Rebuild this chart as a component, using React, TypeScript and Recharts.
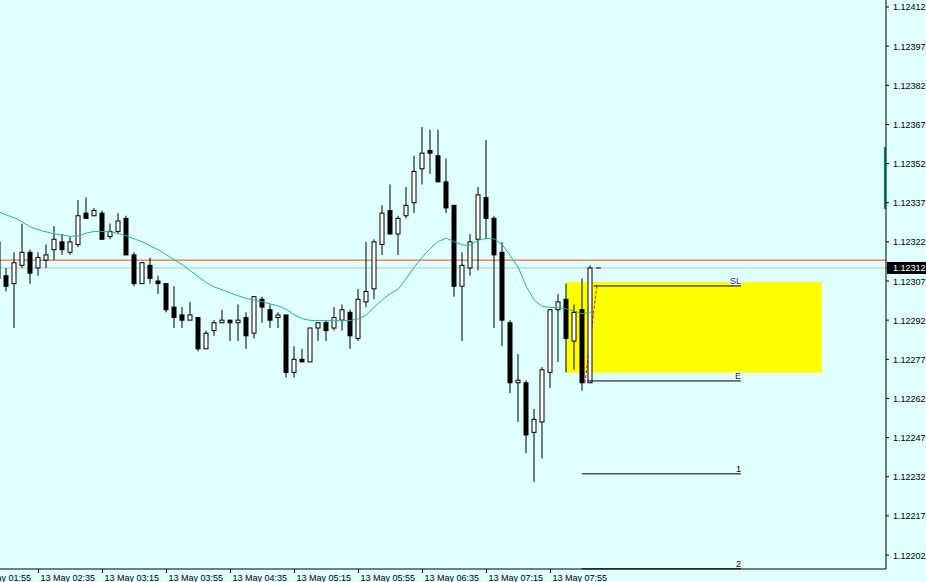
import * as React from "react";
import {
  Bar,
  ComposedChart,
  Line,
  ReferenceArea,
  ReferenceLine,
  XAxis,
  YAxis,
} from "recharts";

// EURUSD M5, 13 May. Bar index 0 = 02:15, one bar per 5 minutes.
const FIRST_BAR = -1;

const opens = [
  1.12322, 1.12309, 1.12306, 1.12313, 1.12318, 1.12312, 1.12315, 1.12319, 1.12322, 1.12318,
  1.12321, 1.12333, 1.12332, 1.12333, 1.12324, 1.12326, 1.12331, 1.12317, 1.12306, 1.12313,
  1.12307, 1.12306, 1.12297, 1.12294, 1.12292, 1.12293, 1.12281, 1.12288, 1.12291, 1.12292,
  1.12291, 1.12293, 1.12287, 1.123, 1.12296, 1.12293, 1.12294, 1.12272, 1.12277, 1.12276,
  1.12289, 1.12291, 1.12289, 1.12292, 1.12295, 1.12285, 1.12299, 1.12304, 1.12321, 1.12334,
  1.12325, 1.12332, 1.12337, 1.1235, 1.12357, 1.12355, 1.12345, 1.12336, 1.12305, 1.12312,
  1.12323, 1.12339, 1.12331, 1.12318, 1.12291, 1.12268, 1.12268, 1.12249, 1.12253, 1.12272,
  1.12296, 1.123, 1.12284, 1.12296, 1.12268,
];
const highs = [
  1.12323, 1.12312, 1.12318, 1.12329, 1.12319, 1.12318, 1.12321, 1.12328, 1.12325, 1.12324,
  1.12338, 1.12339, 1.12335, 1.12334, 1.12329, 1.12333, 1.12332, 1.12318, 1.12314, 1.12316,
  1.12309, 1.12306, 1.12305, 1.12297, 1.12299, 1.12293, 1.12288, 1.12292, 1.12296, 1.12292,
  1.12298, 1.12295, 1.12301, 1.12301, 1.12298, 1.12295, 1.12294, 1.12282, 1.12281, 1.12289,
  1.12291, 1.12292, 1.12297, 1.12298, 1.12296, 1.12304, 1.12322, 1.12323, 1.12336, 1.12344,
  1.12332, 1.12343, 1.12355, 1.12366, 1.12365, 1.12365, 1.12354, 1.12336, 1.12318, 1.12325,
  1.12343, 1.12361, 1.12332, 1.12322, 1.12292, 1.12279, 1.12269, 1.12258, 1.12274, 1.12296,
  1.12302, 1.12306, 1.12298, 1.12308, 1.12313,
];
const lows = [
  1.12307, 1.12303, 1.12289, 1.12312, 1.12306, 1.12309, 1.12312, 1.12315, 1.12317, 1.12317,
  1.1232, 1.12331, 1.12332, 1.12323, 1.12323, 1.12325, 1.12317, 1.12305, 1.12306, 1.12306,
  1.12302, 1.12295, 1.12289, 1.12289, 1.12292, 1.1228, 1.12281, 1.12286, 1.12291, 1.12284,
  1.12284, 1.12281, 1.12285, 1.12291, 1.12289, 1.12289, 1.1227, 1.1227, 1.12276, 1.12276,
  1.12284, 1.12284, 1.12288, 1.12288, 1.12281, 1.12284, 1.12297, 1.123, 1.12317, 1.12325,
  1.12317, 1.12331, 1.12333, 1.12344, 1.12348, 1.12345, 1.12333, 1.12301, 1.12284, 1.12309,
  1.12311, 1.12323, 1.12289, 1.12282, 1.12264, 1.12253, 1.12241, 1.1223, 1.12239, 1.12266,
  1.12276, 1.12272, 1.12273, 1.12265, 1.12268,
];
const closes = [
  1.12308, 1.12305, 1.12314, 1.12318, 1.1231, 1.12316, 1.12317, 1.12323, 1.12319, 1.12322,
  1.12332, 1.12331, 1.12334, 1.12323, 1.12326, 1.1233, 1.12317, 1.12306, 1.12314, 1.12308,
  1.12306, 1.12296, 1.12293, 1.12292, 1.12294, 1.12281, 1.12287, 1.12291, 1.12292, 1.12291,
  1.12292, 1.12286, 1.12301, 1.12297, 1.12292, 1.12294, 1.12272, 1.12277, 1.12276, 1.12289,
  1.12291, 1.12288, 1.12293, 1.12296, 1.12286, 1.123, 1.12303, 1.12322, 1.12333, 1.12325,
  1.12331, 1.12336, 1.12349, 1.12356, 1.12356, 1.12345, 1.12335, 1.12305, 1.12313, 1.12322,
  1.1234, 1.12331, 1.12317, 1.12292, 1.12268, 1.12269, 1.12248, 1.12254, 1.12273, 1.12296,
  1.12299, 1.12285, 1.12295, 1.12268, 1.12312,
];
const maValues = [
  1.123335, 1.123323, 1.123312, 1.123296, 1.123277, 1.123266, 1.123258, 1.12325, 1.123246, 1.123241,
  1.123243, 1.123254, 1.12326, 1.12326, 1.123258, 1.123252, 1.123243, 1.123231, 1.12322, 1.123204,
  1.123189, 1.12317, 1.123151, 1.123132, 1.123109, 1.123086, 1.123063, 1.123047, 1.123036, 1.123024,
  1.123013, 1.123003, 1.122997, 1.12299, 1.122982, 1.122974, 1.122961, 1.12294, 1.122925, 1.122919,
  1.122918, 1.122918, 1.122918, 1.122918, 1.122919, 1.122925, 1.12294, 1.122971, 1.122999, 1.123022,
  1.12304, 1.123082, 1.123124, 1.123162, 1.123195, 1.123222, 1.123234, 1.12322, 1.123208, 1.123208,
  1.123227, 1.123233, 1.123231, 1.123208, 1.123166, 1.12312, 1.123047, 1.122995, 1.122972, 1.122969,
  1.122968, 1.122963, 1.122955, 1.122944, 1.122951,
];

const tickBars = [-4, 4, 12, 20, 28, 36, 44, 52, 60, 68];
const tickLabels = [
  "13 May 01:55",
  "13 May 02:35",
  "13 May 03:15",
  "13 May 03:55",
  "13 May 04:35",
  "13 May 05:15",
  "13 May 05:55",
  "13 May 06:35",
  "13 May 07:15",
  "13 May 07:55",
];
const priceTicks = [
  1.12202, 1.12217, 1.12232, 1.12247, 1.12262, 1.12277, 1.12292, 1.12307, 1.12322, 1.12337,
  1.12352, 1.12367, 1.12382, 1.12397, 1.12412,
];

const bidPrice = 1.12312;
const orangeLevel = 1.12315;
const zone = { from: 69.9, to: 101.9, top: 1.123066, bottom: 1.122718 };
const levelNames = ["SL", "E", "1", "2"];
const levelPrices = [1.123051, 1.122687, 1.122331, 1.121967];
const levelStarts = [73.4, 72.7, 71.9, 71.9];
const levelEnd = 91.8;
const levelColors = ["#0b2a8a", "#0b2a8a", "#000000", "#000000"];
const tradeLine = { x1: 72.3, y1: 1.122679, x2: 73.8, y2: 1.123051 };
const sideBar = { x: 109.8, top: 1.123584, bottom: 1.123346 };

const SHIFT = 40;
const WIDTH = 926;
const HEIGHT = 582;
const FONT = "Tahoma, 'Liberation Sans', Arial, sans-serif";

const data = opens.map((o, k) => ({
  i: FIRST_BAR + k,
  open: o,
  high: highs[k],
  low: lows[k],
  close: closes[k],
  range: [lows[k], highs[k]],
  ma: maValues[k],
}));

function Candle(props: any) {
  const { x, y, width, height, payload } = props;
  if (payload == null || height == null) return null;
  const { open, close, high, low } = payload;
  const cx = x + width / 2;
  const span = high - low || 1;
  const toPx = (p: number) => y + ((high - p) / span) * height;
  const yo = toPx(open);
  const yc = toPx(close);
  const top = Math.min(yo, yc);
  const bottom = Math.max(yo, yc);
  const bull = close >= open;
  return (
    <g>
      <line x1={cx} x2={cx} y1={y} y2={y + height} stroke="#000" strokeWidth={1} />
      <rect
        x={cx - 2}
        y={top}
        width={4}
        height={Math.max(bottom - top, 1)}
        fill={bull ? "#ffffff" : "#000000"}
        stroke="#000"
        strokeWidth={1}
      />
    </g>
  );
}

function TimeTick(props: any) {
  const { x, y, payload } = props;
  const k = tickBars.indexOf(payload.value);
  return (
    <text x={x + 2} y={y + 6} fontSize={9} fill="#000" fontFamily={FONT}>
      {tickLabels[k]}
    </text>
  );
}

function PriceTick(props: any) {
  const { x, y, payload } = props;
  const v = payload.value as number;
  if (Math.abs(v - bidPrice) < 1e-7) {
    return (
      <g>
        <rect x={x - 4} y={y - 6} width={40} height={12} fill="#000" />
        <text x={x + 2} y={y + 3.5} fontSize={9} fill="#fff" fontFamily={FONT}>
          {v.toFixed(5)}
        </text>
      </g>
    );
  }
  return (
    <text x={x + 2} y={y + 3.5} fontSize={9} fill="#000" fontFamily={FONT}>
      {v.toFixed(5)}
    </text>
  );
}

function LevelTag(props: any) {
  const { viewBox, text, color } = props;
  if (!viewBox) return null;
  const xr = viewBox.x + viewBox.width;
  return (
    <text
      x={xr}
      y={viewBox.y - 2}
      textAnchor="end"
      fontSize={9}
      fill={color}
      stroke="#ffffff"
      strokeWidth={2}
      paintOrder="stroke"
      fontFamily={FONT}
    >
      {text}
    </text>
  );
}

export default function App(): JSX.Element {
  return (
    <div
      style={{
        position: "absolute",
        left: 0,
        top: 0,
        width: WIDTH,
        height: HEIGHT,
        overflow: "hidden",
        background: "#E0FFFF",
      }}
    >
      <div style={{ position: "absolute", left: -SHIFT, top: 0 }}>
        <ComposedChart
          width={WIDTH + SHIFT}
          height={HEIGHT}
          data={data}
          margin={{ top: 0, right: 0, bottom: 0, left: 0 }}
        >
          <XAxis
            dataKey="i"
            type="number"
            domain={[-5.8125, 109.9375]}
            allowDataOverflow
            ticks={tickBars}
            interval={0}
            height={13}
            tickSize={4}
            axisLine={{ stroke: "#000" }}
            tickLine={{ stroke: "#000" }}
            tick={<TimeTick />}
          />
          <YAxis
            orientation="right"
            type="number"
            domain={[1.1219664, 1.1241468]}
            allowDataOverflow
            ticks={[...priceTicks, bidPrice].sort((a, b) => a - b)}
            interval={0}
            width={40}
            tickSize={3}
            axisLine={{ stroke: "#000" }}
            tickLine={{ stroke: "#000" }}
            tick={<PriceTick />}
          />
          <ReferenceArea
            x1={zone.from}
            x2={zone.to}
            y1={zone.bottom}
            y2={zone.top}
            fill="#FFFF00"
            fillOpacity={1}
            stroke="none"
            zIndex={-20}
          />
          <ReferenceLine y={orangeLevel} stroke="#FF4500" strokeWidth={1} zIndex={-10} />
          <ReferenceLine y={bidPrice} stroke="#C0C0C0" strokeWidth={1} zIndex={-10} />
          <ReferenceLine
            segment={[
              { x: tradeLine.x1, y: tradeLine.y1 },
              { x: tradeLine.x2, y: tradeLine.y2 },
            ]}
            stroke="#FF0000"
            strokeDasharray="3 2"
            zIndex={-10}
          />
          <Bar
            dataKey="range"
            barSize={5}
            shape={<Candle />}
            isAnimationActive={false}
          />
          <Line
            dataKey="ma"
            type="linear"
            stroke="#20B2AA"
            strokeWidth={1}
            dot={false}
            activeDot={false}
            isAnimationActive={false}
          />
          {levelNames.map((name, k) => (
            <ReferenceLine
              key={name}
              segment={[
                { x: levelStarts[k], y: levelPrices[k] },
                { x: levelEnd, y: levelPrices[k] },
              ]}
              stroke="#000"
              strokeWidth={1}
              label={<LevelTag text={name} color={levelColors[k]} />}
            />
          ))}
          <ReferenceLine
            segment={[
              { x: 73.7, y: bidPrice },
              { x: 74.3, y: bidPrice },
            ]}
            stroke="#000"
          />
          <ReferenceLine
            segment={[
              { x: sideBar.x, y: sideBar.top },
              { x: sideBar.x, y: sideBar.bottom },
            ]}
            stroke="#008B80"
            strokeWidth={2}
          />
        </ComposedChart>
      </div>
    </div>
  );
}
